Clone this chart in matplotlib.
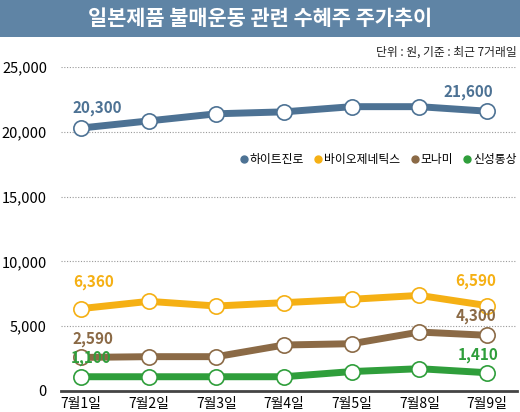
import matplotlib.pyplot as plt
from matplotlib.lines import Line2D
from matplotlib.patches import Rectangle

plt.rcParams['font.family'] = ['Noto Sans CJK KR', 'DejaVu Sans']

# data
days = ['7월1일', '7월2일', '7월3일', '7월4일', '7월5일', '7월8일', '7월9일']
names = ['하이트진로', '바이오제네틱스', '모나미', '신성통상']
hite = [20300, 20850, 21400, 21550, 21950, 21950, 21600]
bio = [6360, 6920, 6560, 6820, 7080, 7380, 6590]
monami = [2590, 2650, 2650, 3550, 3650, 4550, 4300]
shinsung = [1100, 1100, 1100, 1100, 1500, 1720, 1410]
yticks = [0, 5000, 10000, 15000, 20000, 25000]

colors = ['#4d7294', '#f5b014', '#8b6a46', '#2f9e3b']
series = [hite, bio, monami, shinsung]

# label offsets in pixels (first point, last point)
offsets = [((16, 20), (-19, 19)),
           ((12, 27), (-11, 25)),
           ((12, 18), (-11, 19)),
           ((10, 19), (-9, 18))]

fig = plt.figure(figsize=(5.2, 4.12), dpi=100)

# title banner
fig.patches.append(Rectangle((0, 0.91), 1, 0.09, transform=fig.transFigure,
                             facecolor='#5f84a5', edgecolor='none'))
fig.text(0.5, 0.955, '일본제품 불매운동 관련 수혜주 주가추이', color='white',
         fontsize=15, fontweight='bold', ha='center', va='center')
fig.text(0.994, 0.873, '단위 : 원, 기준 : 최근 7거래일', fontsize=8.5,
         ha='right', va='center', color='#222222')

ax = fig.add_axes([0.117, 0.051, 0.877, 0.786])
x = list(range(len(days)))

for vals, c, (o1, o2) in zip(series, colors, offsets):
    ax.plot(x, vals, color=c, lw=5, marker='o', ms=11, mfc='white',
            mec=c, mew=1.2, zorder=3, clip_on=False)
    ax.annotate(f'{vals[0]:,}', (x[0], vals[0]), xytext=o1, textcoords='offset pixels',
                ha='center', va='center', color=c, fontsize=11, fontweight='bold', zorder=4)
    ax.annotate(f'{vals[-1]:,}', (x[-1], vals[-1]), xytext=o2, textcoords='offset pixels',
                ha='center', va='center', color=c, fontsize=11, fontweight='bold', zorder=4)

ax.set_xlim(-0.3, 6.44)
ax.set_ylim(0, 25000)
ax.set_yticks(yticks)
ax.set_yticklabels([f'{v:,}' for v in yticks], fontsize=10.5)
ax.set_xticks(x)
ax.set_xticklabels(days, fontsize=10)
ax.tick_params(length=0, pad=10)
ax.tick_params(axis='x', pad=4)
for t in yticks[1:]:
    ax.axhline(t, color='#999999', lw=0.8, ls=(0, (1, 1.5)), zorder=1)
for s in ['top', 'right', 'left']:
    ax.spines[s].set_visible(False)
ax.spines['bottom'].set_color('#444444')
ax.spines['bottom'].set_linewidth(2)

handles = [Line2D([], [], ls='none', marker='o', ms=5, color=c) for c in colors]
ax.legend(handles, names, loc='center right', bbox_to_anchor=(1.01, 0.715),
          ncol=4, frameon=False, fontsize=8.5, handlelength=0.6, handletextpad=0.2,
          columnspacing=0.9, borderaxespad=0)

fig.savefig('out.png', dpi=100)
